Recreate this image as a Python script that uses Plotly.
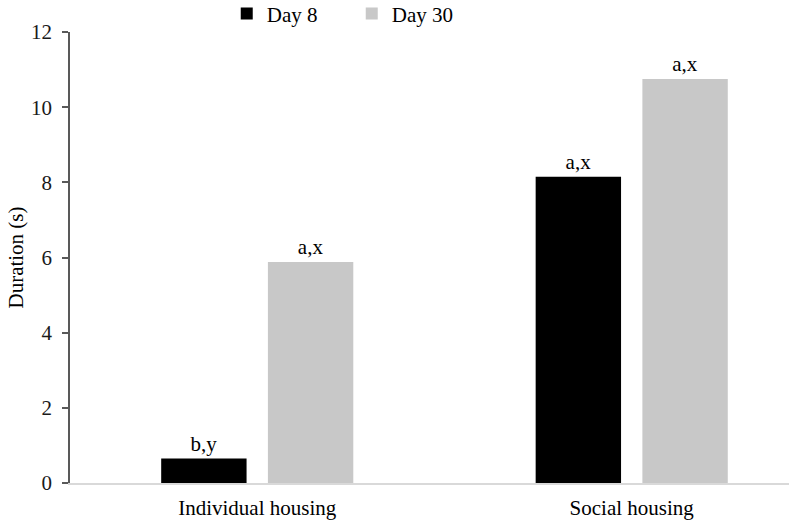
import plotly.graph_objects as go

# Mean duration per housing condition, measured on day 8 and day 30
housing = ["Individual housing", "Social housing"]
day8 = [0.65, 8.15]
day30 = [5.88, 10.75]
day8_letters = ["b,y", "a,x"]
day30_letters = ["a,x", "a,x"]
y_ticks = [0, 2, 4, 6, 8, 10, 12]

FONT = "Liberation Serif"
SIZE = 21

fig = go.Figure()
fig.add_trace(go.Bar(
    name="Day 8", x=housing, y=day8, text=day8_letters,
    marker=dict(color="#000000", line=dict(width=0)),
    textposition="outside", cliponaxis=False,
    textfont=dict(family=FONT, size=SIZE, color="#000000"),
))
fig.add_trace(go.Bar(
    name="Day 30", x=housing, y=day30, text=day30_letters,
    marker=dict(color="#c8c8c8", line=dict(width=0)),
    textposition="outside", cliponaxis=False,
    textfont=dict(family=FONT, size=SIZE, color="#000000"),
))

fig.update_layout(
    width=789, height=524,
    margin=dict(l=70, r=0, t=32, b=41, pad=0, autoexpand=False),
    paper_bgcolor="white", plot_bgcolor="white",
    barmode="group", bargap=0.43, bargroupgap=0.2,
    font=dict(family=FONT, size=SIZE, color="#1a1a1a"),
    showlegend=True,
    legend=dict(
        orientation="h", x=0.218, xanchor="left", y=1.04, yanchor="middle",
        font=dict(family=FONT, size=SIZE, color="#000000"),
        itemwidth=30, entrywidth=80, entrywidthmode="pixels",
        bgcolor="rgba(0,0,0,0)",
    ),
    xaxis=dict(
        range=[-0.5, 1.42], showgrid=False, zeroline=False,
        showline=True, linecolor="#d9d9d9", linewidth=1.5,
        ticks="", tickfont=dict(family=FONT, size=SIZE, color="#000000"),
        ticklabelstandoff=5,
    ),
    yaxis=dict(
        range=[0, 12], tickvals=y_ticks, showgrid=False, zeroline=False,
        showline=True, linecolor="#595959", linewidth=1.5,
        ticks="outside", ticklen=6, tickwidth=1.5, tickcolor="#595959",
        tickfont=dict(family=FONT, size=SIZE, color="#1a1a1a"),
        ticklabelstandoff=6,
        title=dict(text="Duration (s)", standoff=2,
                   font=dict(family=FONT, size=SIZE, color="#000000")),
    ),
)

fig.write_html("out.html")
